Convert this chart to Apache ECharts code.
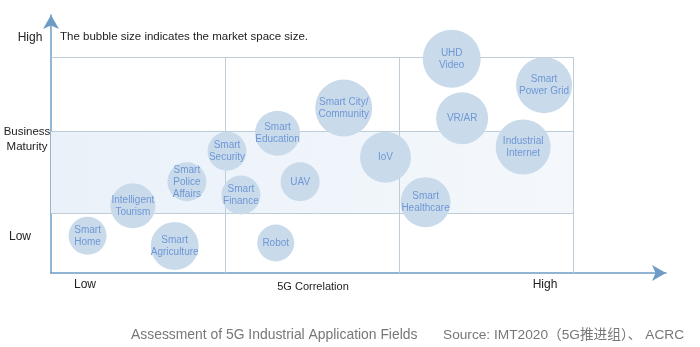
<!DOCTYPE html>
<html><head><meta charset="utf-8">
<script src="https://cdn.jsdelivr.net/npm/echarts@6/dist/echarts.min.js"></script>
<style>html,body{margin:0;padding:0;background:#fff}#c{width:700px;height:347px}</style>
</head><body><div id="c"></div>
<script>
// Bubble data: 5G correlation (x), business maturity (y), market space (bubble size)
const fields = ["Smart\nHome","Intelligent\nTourism","Smart\nAgriculture","Smart\nPolice\nAffairs","Smart\nSecurity","Smart\nFinance","Smart\nEducation","UAV","Robot","Smart City/\nCommunity","IoV","Smart\nHealthcare","UHD\nVideo","VR/AR","Smart\nPower Grid","Industrial\nInternet"];
const correlation = [0.21,0.47,0.71,0.78,1.01,1.09,1.30,1.43,1.29,1.68,1.92,2.15,2.30,2.36,2.83,2.71];
const maturity    = [0.62,1.12,0.45,1.52,2.03,1.30,2.33,1.52,0.50,2.75,1.93,1.18,3.57,2.58,3.13,2.10];
const marketSpace = [38,45,48,39,39,39,45,39,37,57,51,50,58,52,56,55];
// Quadrant boundaries
const xBounds = [1,2,3];
const yBounds = [1,2.37,3.6];
const yLabels = ["Low","Business\nMaturity","High"];
const xLabels = ["Low","5G Correlation","High"];

const chart = echarts.init(document.getElementById('c'));
const font = "'Liberation Sans', Arial, sans-serif";
const gridLine = {color:'#bfcdd9', width:1, type:'solid'};
const lines = [];
yBounds.forEach(y => lines.push([{coord:[0,y]},{coord:[xBounds[2],y]}]));
xBounds.forEach(x => lines.push([{coord:[x,0]},{coord:[x,yBounds[2]]}]));

chart.setOption({
  animation:false,
  textStyle:{fontFamily:font},
  grid:{left:51, right:34, top:15, bottom:74},
  xAxis:{type:'value', min:0, max:3.53, splitLine:{show:false}, axisTick:{show:false}, axisLabel:{show:false},
    axisLine:{lineStyle:{color:'#6f9cc6', width:1.5}, symbol:['none','arrow'], symbolSize:[12,14]}},
  yAxis:{type:'value', min:0, max:4.3, splitLine:{show:false}, axisTick:{show:false}, axisLabel:{show:false},
    axisLine:{lineStyle:{color:'#6f9cc6', width:1.5}, symbol:['none','arrow'], symbolSize:[12,14]}},
  series:[
    {type:'scatter', data:[], silent:true,
     markArea:{silent:true, itemStyle:{color:{type:'linear',x:0,y:0,x2:1,y2:0,colorStops:[{offset:0,color:'#eaf1f9'},{offset:1,color:'#f4f8fc'}]}},
       data:[[{coord:[0,yBounds[0]]},{coord:[xBounds[2],yBounds[1]]}]]},
     markLine:{silent:true, symbol:'none', label:{show:false}, lineStyle:gridLine, data:lines}
    },
    {type:'scatter', z:5,
     data: fields.map((f,i)=>({name:f, value:[correlation[i], maturity[i], marketSpace[i]]})),
     symbolSize: v => v[2],
     itemStyle:{color:'#c9dbeb', opacity:1},
     label:{show:true, position:'inside', formatter: p => p.name, color:'#6f97d5', fontSize:10, lineHeight:12, fontFamily:font}
    }
  ],
  graphic:[
    {type:'text', left:60, top:31, style:{text:'The bubble size indicates the market space size.', fill:'#222', font:'11.5px '+font}},
    {type:'text', x:30, y:38, style:{text:yLabels[2], fill:'#222', font:'12px '+font, align:'center', verticalAlign:'middle'}},
    {type:'text', x:27, y:139, style:{text:yLabels[1], fill:'#222', font:'11.5px '+font, align:'center', verticalAlign:'middle', lineHeight:15}},
    {type:'text', x:20, y:237, style:{text:yLabels[0], fill:'#222', font:'12px '+font, align:'center', verticalAlign:'middle'}},
    {type:'text', x:85, y:285, style:{text:xLabels[0], fill:'#222', font:'12px '+font, align:'center', verticalAlign:'middle'}},
    {type:'text', x:313, y:287, style:{text:xLabels[1], fill:'#222', font:'11px '+font, align:'center', verticalAlign:'middle'}},
    {type:'text', x:545, y:285, style:{text:xLabels[2], fill:'#222', font:'12px '+font, align:'center', verticalAlign:'middle'}},
    {type:'text', x:131, y:335, style:{text:'Assessment of 5G Industrial Application Fields', fill:'#777', font:'13.9px '+font, verticalAlign:'middle'}},
    {type:'text', x:443, y:335, style:{text:'Source: IMT2020（5G推进组）、 ACRC', fill:'#777', font:"13.7px 'Liberation Sans','Noto Sans CJK SC', sans-serif", verticalAlign:'middle'}}
  ]
});
</script></body></html>
